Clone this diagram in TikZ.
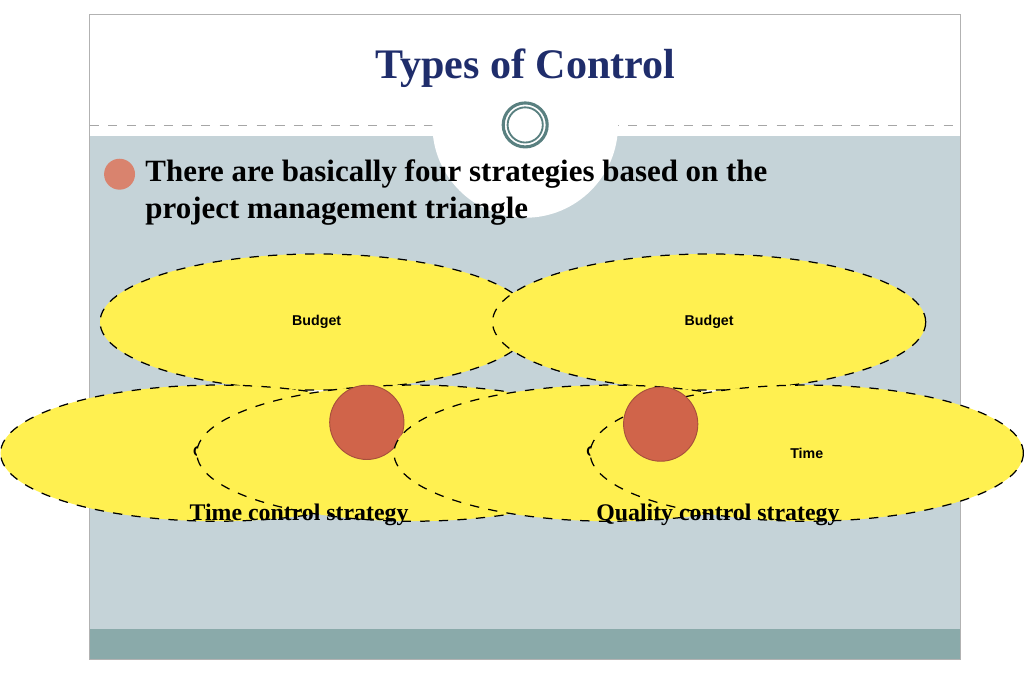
\documentclass[tikz,border=0pt]{standalone}
\usepackage{fontspec}
\setmainfont{Liberation Serif}
\newfontfamily\lsans{Liberation Sans}
\usetikzlibrary{shapes.geometric}
\definecolor{bgc}{HTML}{C5D3D8}
\definecolor{barc}{HTML}{8AAAAA}
\definecolor{navy}{HTML}{1F2D6B}
\definecolor{dotc}{HTML}{D0644A}
\definecolor{elc}{HTML}{FFF050}
\pgfdeclarelayer{back}
\pgfdeclarelayer{mid}
\pgfsetlayers{back,mid,main}
\begin{document}
\begin{tikzpicture}[x=0.01cm,y=-0.01cm,
  ell/.style={ellipse,draw,dashed,fill=elc,minimum width=140,minimum height=44,inner sep=0pt,font=\lsans\bfseries\fontsize{4.6}{5}\selectfont},
  edge/.style={draw=black,line width=0.35pt},
  dot/.style={circle,fill=dotc,draw=dotc!80!black,line width=0.3pt,minimum size=24,inner sep=0pt},
  captxt/.style={font=\bfseries\fontsize{7.7}{9}\selectfont}]
\begin{pgfonlayer}{back}
\fill[white] (0,0) rectangle (1024,768);
\fill[bgc] (17,155) rectangle (1007,715);
\fill[barc] (17,715) rectangle (1007,750);
\draw[gray!60,line width=0.3pt] (17,17) rectangle (1007,750);
\draw[gray!70,dashed,line width=0.3pt] (17,143) -- (1007,143);
\end{pgfonlayer}
\node[circle,fill=white,minimum size=60,inner sep=0pt] (c0) at (512,142) {};
\draw[gray!70!teal,line width=1pt] (c0.center) circle (25);
\draw[gray!70!teal,line width=0.6pt] (c0.center) circle (20);
\node[text=navy,font=\bfseries\fontsize{13.6}{15}\selectfont] (title) at (512,78) {Types of Control};
\node[circle,fill=dotc!80!white,minimum size=10,inner sep=0pt] (b) at (51,198) {};
\node[anchor=west,align=left,font=\bfseries\fontsize{10}{11.9}\selectfont] (t) at (68,219) {There are basically four strategies based on the\\project management triangle};
% left
\node[ell] (b1) at (275,366) {Budget};
\node[ell] (q1) at (162,515) {Quality};
\node[ell] (t1) at (385,515) {Time};
\node[dot] (d1) at (332,480) {};
\node[captxt] (c1) at (255,585) {Time control strategy};
% right
\node[ell] (b2) at (721,366) {Budget};
\node[ell] (q2) at (609,515) {Quality};
\node[ell] (t2) at (832,515) {Time};
\node[dot] (d2) at (666,482) {};
\node[captxt] (c2) at (731,585) {Quality control strategy};
\begin{pgfonlayer}{mid}
\filldraw[fill=white,edge] (b1.center) -- (q1.center) -- (t1.center) -- cycle;
\filldraw[fill=white,edge] (b2.center) -- (q2.center) -- (t2.center) -- cycle;
\end{pgfonlayer}
\end{tikzpicture}
\end{document}
